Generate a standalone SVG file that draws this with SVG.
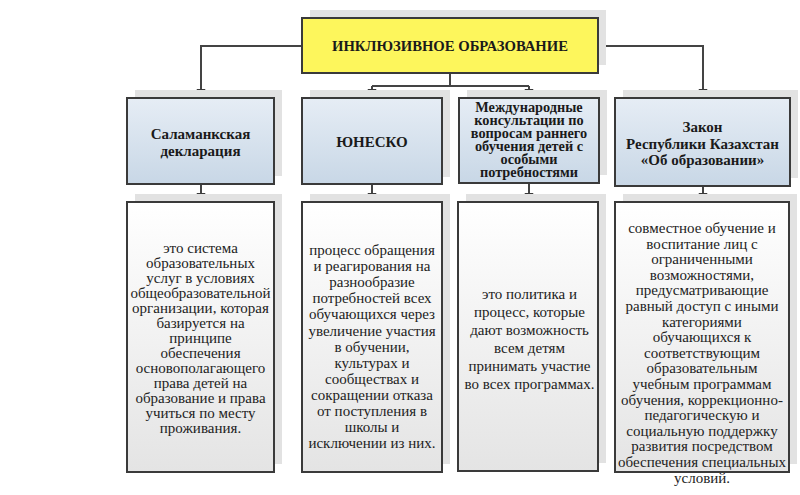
<svg xmlns="http://www.w3.org/2000/svg" width="800" height="495" viewBox="0 0 800 495">
<defs>
<linearGradient id="gHead" x1="0" y1="0" x2="0" y2="1">
<stop offset="0" stop-color="#e6edf5"/>
<stop offset="1" stop-color="#c8d7e6"/>
</linearGradient>
<linearGradient id="gBody" x1="0" y1="0" x2="0" y2="1">
<stop offset="0" stop-color="#ffffff"/>
<stop offset="1" stop-color="#e4e4e4"/>
</linearGradient>
<style>
.shadow{fill:#e2e2e2}
.box{stroke:#3a3a3a;stroke-width:2}
.title{fill:#fdf65c}
.head{fill:url(#gHead)}
.body{fill:url(#gBody)}
.conn{fill:none;stroke:#444;stroke-width:2}
.arrow{fill:#3a3a3a}
.ht{font-family:'Liberation Serif','Times New Roman',serif;font-weight:bold;font-size:15px;fill:#1a1a1a;text-anchor:middle}
.bt{font-family:'Liberation Serif','Times New Roman',serif;font-size:15px;fill:#222;text-anchor:middle}
</style>
</defs>
<rect width="800" height="495" fill="#ffffff"/>

<g id="connectors">
<polyline class="conn" points="302,46 201,46 201,90"/>
<polyline class="conn" points="598,46 703,46 703,90"/>
<polyline class="conn" points="450,73 450,86"/>
<polyline class="conn" points="372,86 529,86"/>
<polyline class="conn" points="372,86 372,90"/>
<polyline class="conn" points="529,86 529,90"/>
<polyline class="conn" points="201,184 201,195"/>
<polyline class="conn" points="372,184 372,195"/>
<polyline class="conn" points="529,183 529,195"/>
<polyline class="conn" points="703,186 703,195"/>
<polygon class="arrow" points="196.5,89 205.5,89 201,98"/>
<polygon class="arrow" points="698.5,89 707.5,89 703,98"/>
<polygon class="arrow" points="367.5,89 376.5,89 372,98"/>
<polygon class="arrow" points="524.5,89 533.5,89 529,98"/>
<polygon class="arrow" points="196.5,193 205.5,193 201,202"/>
<polygon class="arrow" points="367.5,193 376.5,193 372,202"/>
<polygon class="arrow" points="524.5,193 533.5,193 529,202"/>
<polygon class="arrow" points="698.5,193 707.5,193 703,202"/>
</g>

<g id="title">
<rect class="shadow" x="310" y="10" width="296" height="55"/>
<rect class="box title" x="302" y="18" width="296" height="55"/>
<text class="ht" x="450" y="51" style="font-size:14.7px">ИНКЛЮЗИВНОЕ ОБРАЗОВАНИЕ</text>
</g>

<g id="head1">
<rect class="shadow" x="135" y="90" width="147" height="86"/>
<rect class="box head" x="127" y="98" width="147" height="86"/>
<text class="ht" x="200.5" y="139">Саламанкская<tspan x="200.5" dy="17">декларация</tspan></text>
</g>

<g id="head2">
<rect class="shadow" x="310" y="90" width="140" height="87"/>
<rect class="box head" x="302" y="98" width="140" height="86"/>
<text class="ht" x="372" y="147">ЮНЕСКО</text>
</g>

<g id="head3">
<rect class="shadow" x="467" y="90" width="140" height="85"/>
<rect class="box head" x="459" y="98" width="140" height="85"/>
<text class="ht" x="529" y="111.5" style="font-size:14.3px">Международные<tspan x="529" dy="13">консультации по</tspan><tspan x="529" dy="13">вопросам раннего</tspan><tspan x="529" dy="13">обучения детей с</tspan><tspan x="529" dy="13">особыми</tspan><tspan x="529" dy="13">потребностями</tspan></text>
</g>

<g id="head4">
<rect class="shadow" x="623" y="90" width="175" height="88"/>
<rect class="box head" x="615" y="98" width="175" height="88"/>
<text class="ht" x="702.5" y="132">Закон<tspan x="702.5" dy="16.5">Республики Казахстан</tspan><tspan x="702.5" dy="16.5">«Об образовании»</tspan></text>
</g>

<g id="body1">
<rect class="shadow" x="135" y="194" width="147" height="270"/>
<rect class="box body" x="127" y="202" width="147" height="270"/>
<text class="bt" x="200.5" y="253">это система<tspan x="200.5" dy="15">образовательных</tspan><tspan x="200.5" dy="15">услуг в условиях</tspan><tspan x="200.5" dy="15">общеобразовательной</tspan><tspan x="200.5" dy="15">организации, которая</tspan><tspan x="200.5" dy="15">базируется на</tspan><tspan x="200.5" dy="15">принципе</tspan><tspan x="200.5" dy="15">обеспечения</tspan><tspan x="200.5" dy="15">основополагающего</tspan><tspan x="200.5" dy="15">права детей на</tspan><tspan x="200.5" dy="15">образование и права</tspan><tspan x="200.5" dy="15">учиться по месту</tspan><tspan x="200.5" dy="15">проживания.</tspan></text>
</g>

<g id="body2">
<rect class="shadow" x="310" y="194" width="140" height="270"/>
<rect class="box body" x="302" y="202" width="140" height="270"/>
<text class="bt" x="372" y="255">процесс обращения<tspan x="372" dy="16.1">и реагирования на</tspan><tspan x="372" dy="16.1">разнообразие</tspan><tspan x="372" dy="16.1">потребностей всех</tspan><tspan x="372" dy="16.1">обучающихся через</tspan><tspan x="372" dy="16.1">увеличение участия</tspan><tspan x="372" dy="16.1">в обучении,</tspan><tspan x="372" dy="16.1">культурах и</tspan><tspan x="372" dy="16.1">сообществах и</tspan><tspan x="372" dy="16.1">сокращении отказа</tspan><tspan x="372" dy="16.1">от поступления в</tspan><tspan x="372" dy="16.1">школы и</tspan><tspan x="372" dy="16.1">исключении из них.</tspan></text>
</g>

<g id="body3">
<rect class="shadow" x="466" y="194" width="140" height="269"/>
<rect class="box body" x="458" y="202" width="140" height="269"/>
<text class="bt" x="529.5" y="299">это политика и<tspan x="529.5" dy="18">процесс, которые</tspan><tspan x="529.5" dy="18">дают возможность</tspan><tspan x="529.5" dy="18">всем детям</tspan><tspan x="529.5" dy="18">принимать участие</tspan><tspan x="529.5" dy="18">во всех программах.</tspan></text>
</g>

<g id="body4">
<rect class="shadow" x="623" y="194" width="174" height="270"/>
<rect class="box body" x="615" y="202" width="174" height="270"/>
<text class="bt" x="702" y="233">совместное обучение и<tspan x="702" dy="15.6">воспитание лиц с</tspan><tspan x="702" dy="15.6">ограниченными</tspan><tspan x="702" dy="15.6">возможностями,</tspan><tspan x="702" dy="15.6">предусматривающие</tspan><tspan x="702" dy="15.6">равный доступ с иными</tspan><tspan x="702" dy="15.6">категориями</tspan><tspan x="702" dy="15.6">обучающихся к</tspan><tspan x="702" dy="15.6">соответствующим</tspan><tspan x="702" dy="15.6">образовательным</tspan><tspan x="702" dy="15.6">учебным программам</tspan><tspan x="702" dy="15.6">обучения, коррекционно-</tspan><tspan x="702" dy="15.6">педагогическую и</tspan><tspan x="702" dy="15.6">социальную поддержку</tspan><tspan x="702" dy="15.6">развития посредством</tspan><tspan x="702" dy="15.6">обеспечения специальных</tspan><tspan x="702" dy="15.6">условий.</tspan></text>
</g>
</svg>
